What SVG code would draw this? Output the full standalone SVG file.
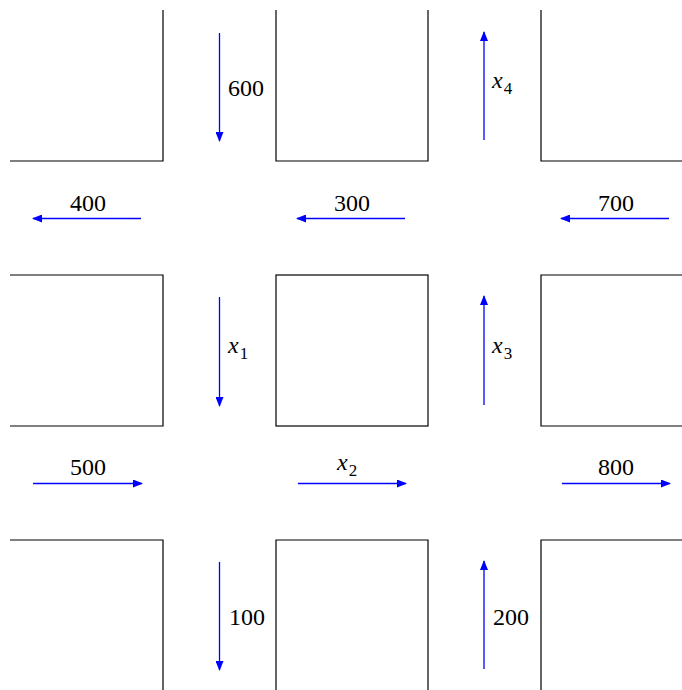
<svg xmlns="http://www.w3.org/2000/svg" width="682" height="690" viewBox="0 0 682 690">
<style>
.blk{fill:none;stroke:#000;stroke-width:1.2}
.arr{stroke:#0000ff;stroke-width:1.3;fill:none;marker-end:url(#ah)}
.lbl{font-family:'Liberation Serif','Times New Roman',Times,serif;font-size:24px;fill:#000}
.var{font-style:italic}
.sub{font-size:17px}
</style>
<defs>
<marker id="ah" viewBox="0 0 10 8" refX="9" refY="4" markerWidth="10" markerHeight="8" markerUnits="userSpaceOnUse" orient="auto">
<path d="M0,0 L10,4 L0,8 Z" fill="#0000ff"/>
</marker>
</defs>
<g id="block-tl"><path class="blk" d="M163,10 V161 H10"/></g>
<g id="block-tm"><path class="blk" d="M276,10 V161 H428 V10"/></g>
<g id="block-tr"><path class="blk" d="M541,10 V161 H682"/></g>
<g id="block-ml"><path class="blk" d="M10,275 H163 V426 H10"/></g>
<g id="block-mm"><rect class="blk" x="276" y="275" width="152" height="151"/></g>
<g id="block-mr"><path class="blk" d="M682,275 H541 V426 H682"/></g>
<g id="block-bl"><path class="blk" d="M10,540 H163 V690"/></g>
<g id="block-bm"><path class="blk" d="M276,690 V540 H428 V690"/></g>
<g id="block-br"><path class="blk" d="M682,540 H541 V690"/></g>
<g id="connectors">
<line class="arr" x1="219.5" y1="33" x2="219.5" y2="141"/>
<line class="arr" x1="484" y1="140" x2="484" y2="32"/>
<line class="arr" x1="141" y1="218.5" x2="33" y2="218.5"/>
<line class="arr" x1="405" y1="218.5" x2="297" y2="218.5"/>
<line class="arr" x1="669" y1="218.5" x2="561" y2="218.5"/>
<line class="arr" x1="219.5" y1="297" x2="219.5" y2="406"/>
<line class="arr" x1="484" y1="405" x2="484" y2="296"/>
<line class="arr" x1="33" y1="483.5" x2="142" y2="483.5"/>
<line class="arr" x1="298" y1="483.5" x2="406" y2="483.5"/>
<line class="arr" x1="562" y1="483.5" x2="670" y2="483.5"/>
<line class="arr" x1="219.5" y1="562" x2="219.5" y2="670"/>
<line class="arr" x1="484" y1="669" x2="484" y2="561"/>
</g>
<g id="labels">
<text class="lbl" x="228" y="96">600</text>
<text class="lbl" x="492" y="88"><tspan class="var">x</tspan><tspan class="sub" dx="1" dy="6">4</tspan></text>
<text class="lbl" x="88" y="211" text-anchor="middle">400</text>
<text class="lbl" x="352" y="211" text-anchor="middle">300</text>
<text class="lbl" x="616" y="211" text-anchor="middle">700</text>
<text class="lbl" x="228" y="353"><tspan class="var">x</tspan><tspan class="sub" dx="1" dy="6">1</tspan></text>
<text class="lbl" x="492" y="353"><tspan class="var">x</tspan><tspan class="sub" dx="1" dy="6">3</tspan></text>
<text class="lbl" x="88" y="475" text-anchor="middle">500</text>
<text class="lbl" x="337" y="470"><tspan class="var">x</tspan><tspan class="sub" dx="1" dy="6">2</tspan></text>
<text class="lbl" x="616" y="475" text-anchor="middle">800</text>
<text class="lbl" x="229" y="625">100</text>
<text class="lbl" x="493" y="625">200</text>
</g>
</svg>
